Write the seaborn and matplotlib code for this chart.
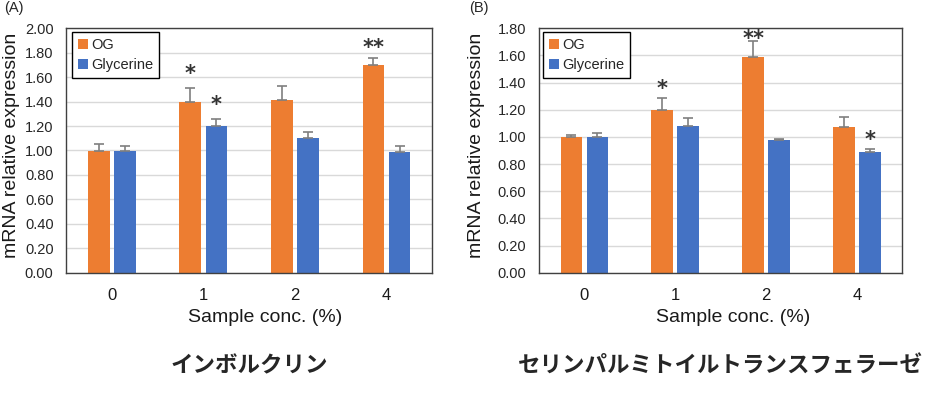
import numpy as np
import pandas as pd
import seaborn as sns
import matplotlib
matplotlib.use("Agg")
import matplotlib.pyplot as plt
from matplotlib.ticker import FormatStrFormatter, MultipleLocator

# ---------------- data ----------------
categories = ["0", "1", "2", "4"]
series = ["OG", "Glycerine"]

a_og = [1.00, 1.40, 1.41, 1.70]
a_og_err = [0.05, 0.11, 0.12, 0.06]
a_gly = [1.00, 1.20, 1.10, 0.99]
a_gly_err = [0.04, 0.055, 0.055, 0.05]
a_og_marks = ["", "*", "", "**"]
a_gly_marks = ["", "*", "", ""]
a_og_mark_y = [0, 1.665, 0, 1.877]
a_gly_mark_y = [0, 1.413, 0, 0]

b_og = [1.00, 1.20, 1.59, 1.07]
b_og_err = [0.012, 0.085, 0.12, 0.075]
b_gly = [1.00, 1.08, 0.98, 0.89]
b_gly_err = [0.028, 0.06, 0.005, 0.018]
b_og_marks = ["", "*", "**", ""]
b_gly_marks = ["", "", "", "*"]
b_og_mark_y = [0, 1.39, 1.76, 0]
b_gly_mark_y = [0, 0, 0, 1.017]

panel_labels = ["(A)", "(B)"]
titles = ["インボルクリン", "セリンパルミトイルトランスフェラーゼ"]
ylabel = "mRNA relative expression"
xlabel = "Sample conc. (%)"

colors = {"OG": "#ED7D31", "Glycerine": "#4472C4"}

# ---------------- style ----------------
sns.set_style("white")
plt.rcParams["font.family"] = ["Liberation Sans", "Noto Sans CJK JP", "DejaVu Sans"]

fig = plt.figure(figsize=(9.48, 3.96), dpi=100)
W, H = 948, 396


def px_axes(l, t, r, b):
    return [l / W, 1 - b / H, (r - l) / W, (b - t) / H]


panels = [
    dict(rect=px_axes(66, 28.3, 432.3, 272.7), ymax=2.0,
         og=a_og, og_err=a_og_err, gly=a_gly, gly_err=a_gly_err,
         og_marks=a_og_marks, gly_marks=a_gly_marks,
         og_my=a_og_mark_y, gly_my=a_gly_mark_y,
         ylab_x=-0.150, xlab_x=0.544, label_x=4, legend_x=0.016),
    dict(rect=px_axes(539, 28.3, 902.3, 272.7), ymax=1.8,
         og=b_og, og_err=b_og_err, gly=b_gly, gly_err=b_gly_err,
         og_marks=b_og_marks, gly_marks=b_gly_marks,
         og_my=b_og_mark_y, gly_my=b_gly_mark_y,
         ylab_x=-0.171, xlab_x=0.534, label_x=469, legend_x=0.011),
]

for i, p in enumerate(panels):
    ax = fig.add_axes(p["rect"])
    df = pd.DataFrame({
        "conc": categories * 2,
        "series": [series[0]] * 4 + [series[1]] * 4,
        "value": p["og"] + p["gly"],
    })
    sns.barplot(data=df, x="conc", y="value", hue="series", order=categories,
                hue_order=series, palette=colors, saturation=1,
                width=0.572, gap=0.17,
                errorbar=None, linewidth=0, ax=ax, zorder=2)

    errs = [p["og_err"], p["gly_err"]]
    marks = [p["og_marks"], p["gly_marks"]]
    mys = [p["og_my"], p["gly_my"]]
    for k, cont in enumerate(ax.containers[:2]):
        xs = [b.get_x() + b.get_width() / 2 for b in cont.patches]
        ys = [b.get_height() for b in cont.patches]
        ax.errorbar(xs, ys, yerr=[np.zeros(len(ys)), errs[k]], fmt="none",
                    ecolor="#7F7F7F", elinewidth=1.2, capsize=3.5,
                    capthick=1.2, zorder=3)
        for x, m, my in zip(xs, marks[k], mys[k]):
            if m:
                ax.annotate(m, xy=(x, my), xytext=(0, -8.0),
                            textcoords="offset points", ha="center",
                            va="baseline", fontsize=15, fontweight="bold",
                            family="DejaVu Sans", color="#333333",
                            annotation_clip=False)

    ax.set_ylim(0, p["ymax"])
    ax.set_xlim(-0.5, 3.5)
    ax.yaxis.set_major_locator(MultipleLocator(0.2))
    ax.yaxis.set_major_formatter(FormatStrFormatter("%.2f"))
    ax.grid(axis="y", color="#D9D9D9", linewidth=1, zorder=0)
    ax.set_axisbelow(True)
    for s in ax.spines.values():
        s.set_visible(True)
        s.set_color("#404040")
        s.set_linewidth(1)
    ax.tick_params(axis="y", length=0, pad=9, labelsize=10.5, labelcolor="#262626")
    ax.tick_params(axis="x", length=0, pad=11, labelsize=12, labelcolor="#1a1a1a")

    ax.set_ylabel(ylabel, fontsize=14, va="center", color="#1a1a1a")
    ax.yaxis.set_label_coords(p["ylab_x"], 0.52)
    ax.set_xlabel(xlabel, fontsize=14, va="center", color="#1a1a1a")
    ax.xaxis.set_label_coords(p["xlab_x"], -0.185)

    leg = ax.legend(loc="upper left", bbox_to_anchor=(p["legend_x"], 0.985),
                    borderaxespad=0, fontsize=10.5, frameon=True, fancybox=False,
                    handlelength=0.7, handleheight=0.7, handletextpad=0.2,
                    labelspacing=0.42, borderpad=0.42, title=None)
    leg.get_frame().set_edgecolor("#000000")
    leg.get_frame().set_linewidth(1)
    leg.get_frame().set_alpha(1)

    l, b, w, h = p["rect"]
    fig.text(l + w / 2, 1 - 366 / H, titles[i], ha="center", va="center",
             fontsize=16.2, fontweight="bold", family=["Noto Sans CJK JP", "DejaVu Sans"])
    fig.text(p["label_x"] / W, 1 - 8 / H, panel_labels[i], ha="left", va="center",
             fontsize=10.5, color="#262626")

fig.savefig("out.png", dpi=100)
